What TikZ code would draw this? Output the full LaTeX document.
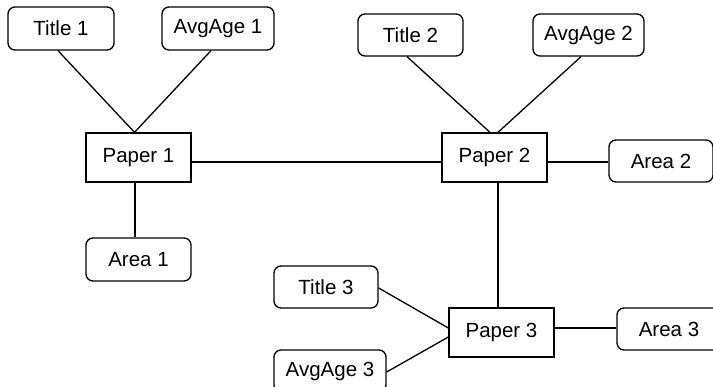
\documentclass[tikz,border=0pt]{standalone}
\usepackage{fontspec}
\setmainfont{Liberation Sans}
\begin{document}
\begin{tikzpicture}[x=1pt,y=-1pt,
  every node/.style={font=\fontsize{20.5}{24}\selectfont, inner sep=0pt, line width=1.3pt},
  attr/.style={draw, rounded corners=7pt, minimum height=42pt},
  entity/.style={draw, minimum width=105pt, minimum height=49pt},
  link/.style={line width=1.3pt}]
\clip (0,0) rectangle (713,387);

% papers (entities)
\node[entity] (p1) at (138.5,157.5) {Paper 1};
\node[entity] (p2) at (494.5,157.5) {Paper 2};
\node[entity] (p3) at (501.5,332.5) {Paper 3};

% attributes of paper 1
\node[attr, minimum width=106pt, minimum height=43pt] (t1) at (61,28.5) {Title 1};
\node[attr, minimum width=112pt, minimum height=43pt] (a1) at (218,28.5) {AvgAge 1};
\node[attr, minimum width=105pt, minimum height=43pt] (r1) at (138.5,259.5) {Area 1};

% attributes of paper 2
\node[attr, minimum width=105pt] (t2) at (410.5,35) {Title 2};
\node[attr, minimum width=111pt] (a2) at (588.5,35) {AvgAge 2};
\node[attr, minimum width=104pt] (r2) at (661,161) {Area 2};

% attributes of paper 3
\node[attr, minimum width=104pt] (t3) at (326,287) {Title 3};
\node[attr, minimum width=112pt] (a3) at (330,371) {AvgAge 3};
\node[attr, minimum width=104pt] (r3) at (669,329) {Area 3};

% connectors (yshift is measured upwards, so negative values go down)
\draw[link] ([xshift=-3pt]t1.south) -- ([xshift=-4pt]p1.north);
\draw[link] ([xshift=-7pt]a1.south) -- ([xshift=-4pt]p1.north);
\draw[link] ([xshift=-3.5pt]p1.south) -- ([xshift=-3.5pt]r1.north);
\draw[link] ([yshift=-4.5pt]p1.east) -- ([yshift=-4.5pt]p2.west);

\draw[link] ([xshift=-3.5pt]t2.south) -- ([xshift=-4.5pt]p2.north);
\draw[link] ([xshift=-7.5pt]a2.south) -- ([xshift=3.5pt]p2.north);
\draw[link] ([yshift=-4.5pt]p2.east) -- ([yshift=-1pt]r2.west);
\draw[link] ([xshift=3.5pt]p2.south) -- ([xshift=-3.5pt]p3.north);

\draw[link] ([yshift=-1pt]t3.east) -- ([yshift=4.5pt]p3.west);
\draw[link] ([yshift=-1pt]a3.east) -- ([yshift=-4.5pt]p3.west);
\draw[link] ([yshift=4.5pt]p3.east) -- ([yshift=1pt]r3.west);
\end{tikzpicture}
\end{document}
